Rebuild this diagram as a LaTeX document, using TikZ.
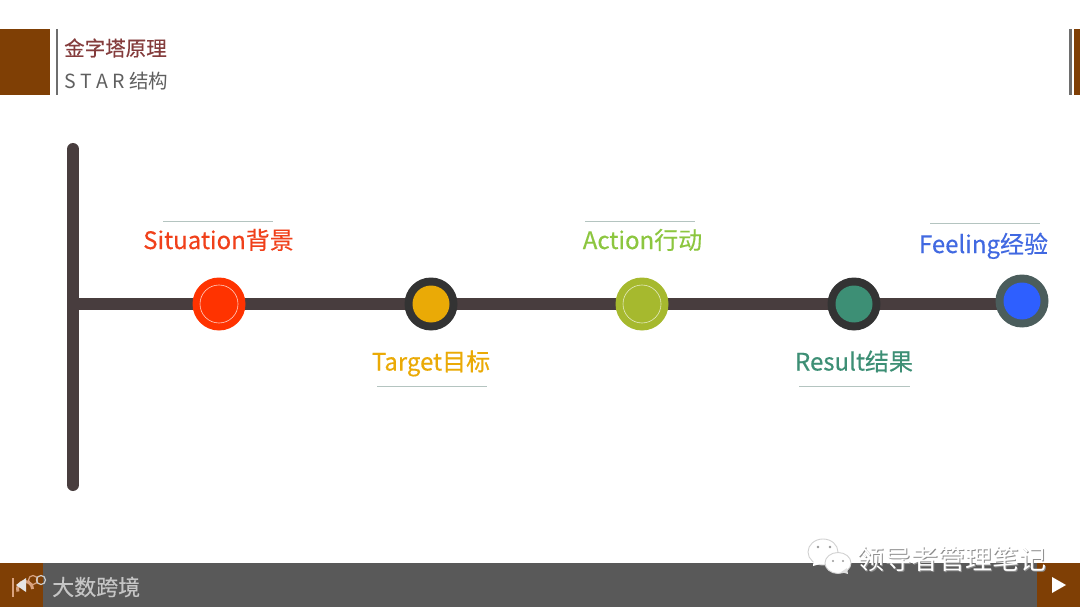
\documentclass[tikz,border=0pt]{standalone}
\usepackage{xcolor}
\usepackage{fontspec}
\usepackage{tikz}
\setmainfont{Noto Sans CJK SC}
\newfontfamily\medfont[FakeBold=0.35]{Noto Sans CJK SC}
\definecolor{starBrown}{HTML}{7F3F05}
\definecolor{starBar}{HTML}{595959}
\definecolor{starRule}{HTML}{6E6E6E}
\definecolor{starTitle}{HTML}{843C3C}
\definecolor{starSub}{HTML}{5F5F5F}
\definecolor{starLine}{HTML}{483D3E}
\definecolor{starThin}{HTML}{B4C4C0}
\definecolor{starRed}{HTML}{FF3300}
\definecolor{starOrange}{HTML}{F0401A}
\definecolor{starGold}{HTML}{EAAA06}
\definecolor{starLime}{HTML}{A6B92E}
\definecolor{starGreen}{HTML}{8CC63F}
\definecolor{starTeal}{HTML}{3D8F75}
\definecolor{starBlue}{HTML}{2E5FFF}
\definecolor{starSky}{HTML}{4169E1}
\definecolor{starDark}{HTML}{333333}
\definecolor{starSlate}{HTML}{4B5D5C}
\definecolor{starLogo}{HTML}{D9A27E}
\pgfdeclarelayer{back}
\pgfsetlayers{back,main}
\tikzset{
  spine/.style={line width=12pt, starLine, line cap=round},
  stem/.style={line width=12pt, starLine},
  thin rule/.style={line width=0.8pt, starThin},
  disc/.style={circle, minimum size=#1, inner sep=0pt},
  lbl/.style={font=\medfont\fontsize{24}{26}\selectfont, inner sep=0pt, anchor=base},
  ttl/.style={font=\fontsize{19.5}{22}\selectfont, inner sep=0pt, anchor=west},
  mark text/.style={font=\fontsize{27}{30}\selectfont, inner sep=0pt, anchor=west},
  bubble/.style={fill=white, draw=black!18, line width=0.9pt},
}

\begin{document}
\begin{tikzpicture}[x=1pt, y=-1pt]
  \useasboundingbox (0,0) rectangle (1080,607);
  % header
  \fill[starBrown] (0,29) rectangle (50,95);
  \draw[line width=2.6pt, starRule] (57,29) -- (57,95);
  \fill[starBrown] (1074,29) rectangle (1080,95);
  \draw[line width=2.6pt, starRule] (1070.5,29) -- (1070.5,95);
  \node[ttl, starTitle, font=\medfont\fontsize{20.5}{22}\selectfont] (title) at (64,48) {金字塔原理};
  \node[ttl, starSub] (subtitle) at (64,81) {S T A R 结构};
  % footer
  \fill[starBar] (0,563) rectangle (1080,607);
  \fill[starBrown] (0,563) rectangle (43,607);
  \fill[starBrown] (1037,563) rectangle (1080,607);
  \fill[white] (1052,577) -- (1066,585) -- (1052,593) -- cycle;
  \draw[line width=2.4pt, starLogo] (13,578) -- (13,597);
  \draw[line width=3pt, starLogo] (32.5,589) arc (0:-200:7.5);
  \draw[line width=1.2pt, starLogo] (33,580) circle (4.5);
  \draw[line width=1.2pt, white!70!starBar] (41,580) circle (4.5);
  \fill[white!90!black] (26,578) -- (26,592) -- (16,585) -- cycle;
  \node[anchor=west, inner sep=0pt, white!65!starBar, font=\medfont\fontsize{22}{24}\selectfont] (brand) at (52,587) {大数跨境};
  % watermark
  \draw[bubble] (823,552) ellipse (15 and 13);
  \fill[white] (814,557) -- (813,566) -- (824,563) -- cycle;
  \draw[bubble] (838,563) ellipse (13 and 10.5);
  \fill[white!88!black] (847,568) -- (848,574) -- (841,572) -- cycle;
  \fill[black!40] (818,547) circle (1.3);
  \fill[black!40] (830,547) circle (1.3);
  \fill[black!40] (833,561) circle (1.2);
  \fill[black!40] (843,561) circle (1.2);
  \node[mark text, black!45] (wmshade) at (857.8,559.8) {领导者管理笔记};
  \node[mark text, white] (wmark) at (857,559) {领导者管理笔记};
  % axis
  \coordinate (top) at (73,149);
  \coordinate (bottom) at (73,485);
  \coordinate (root) at (73,304);
  \draw[spine] (top) -- (bottom);
  \node[disc=53pt, fill=starRed] (situation) at (219,304) {};
  \node[disc=53pt, fill=starDark] (target) at (431,304) {};
  \node[disc=53pt, fill=starLime] (action) at (642,304) {};
  \node[disc=53pt, fill=starDark] (result) at (854,304) {};
  \node[disc=53pt, fill=starSlate] (feeling) at (1022,301) {};
  \begin{pgfonlayer}{back}
    \draw[stem] (root) -- (situation.center);
    \draw[stem] (situation.center) -- (target.center);
    \draw[stem] (target.center) -- (action.center);
    \draw[stem] (action.center) -- (result.center);
    \draw[stem] (result.center) -- (result.center -| feeling.center);
  \end{pgfonlayer}
  \node[disc=38pt, draw=white!75!starRed, line width=0.6pt] (situationin) at (situation) {};
  \node[disc=37pt, fill=starGold] (targetin) at (target) {};
  \node[disc=38pt, draw=white!70!starLime, line width=0.6pt] (actionin) at (action) {};
  \node[disc=37pt, fill=starTeal] (resultin) at (result) {};
  \node[disc=37pt, fill=starBlue] (feelingin) at (feeling) {};
  % labels
  \node[lbl, starOrange] (situationlbl) at (218.5,249) {Situation背景};
  \node[lbl, starGold] (targetlbl) at (431,370.5) {Target目标};
  \node[lbl, starGreen] (actionlbl) at (642.5,249) {Action行动};
  \node[lbl, starTeal] (resultlbl) at (854,370.5) {Result结果};
  \node[lbl, starSky] (feelinglbl) at (983.5,253) {Feeling经验};
  \draw[thin rule] (163,221) -- (273,221);
  \draw[thin rule] (377,386) -- (487,386);
  \draw[thin rule] (585,221) -- (695,221);
  \draw[thin rule] (799,386) -- (910,386);
  \draw[thin rule] (930,223) -- (1040,223);
\end{tikzpicture}
\end{document}
